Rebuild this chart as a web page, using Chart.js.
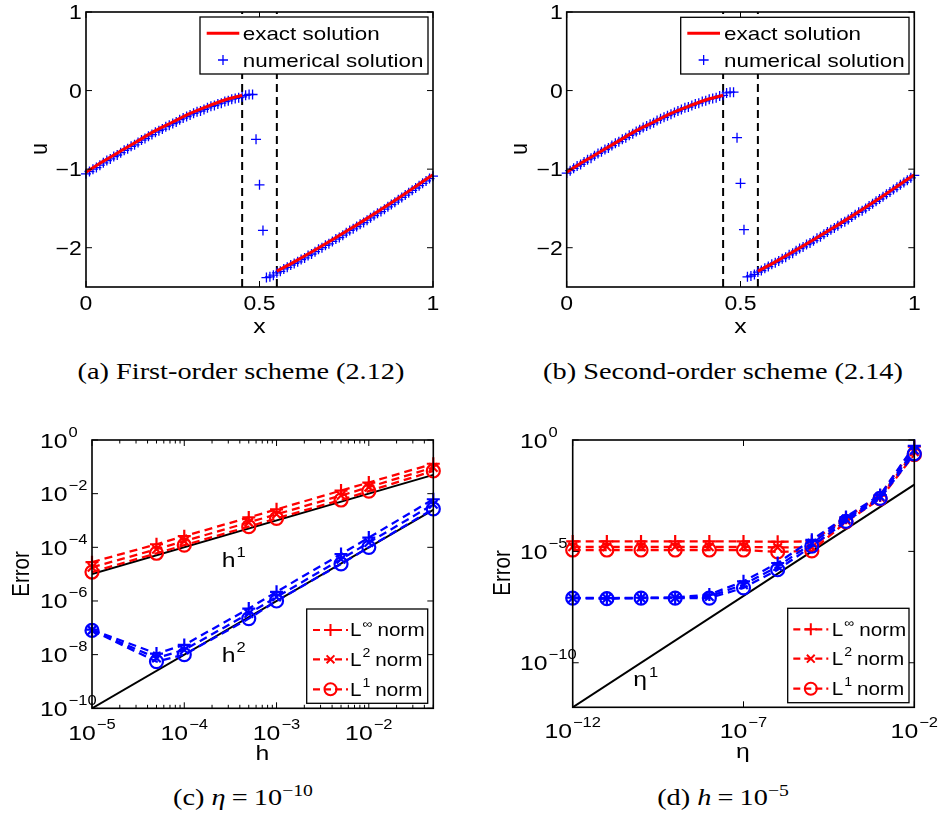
<!DOCTYPE html>
<html><head><meta charset="utf-8">
<script src="https://cdn.jsdelivr.net/npm/chart.js@4.4.0/dist/chart.umd.min.js"></script>
<style>
body{margin:0;background:#fff;width:939px;height:818px;overflow:hidden;position:relative}
canvas{position:absolute}
.cap{position:absolute;font-family:"Liberation Serif","Times New Roman",serif;font-size:23px;white-space:nowrap;line-height:1;transform:translate(-50%,-50%) scaleX(1.23);color:#000}
.cap sup{font-size:16px;vertical-align:9px;line-height:0}
.cap .eq{padding:0 5px}
</style></head><body>
<canvas id="ca" width="470" height="345" style="left:0;top:0"></canvas>
<canvas id="cb" width="469" height="345" style="left:470px;top:0"></canvas>
<canvas id="cc" width="470" height="380" style="left:0;top:400px"></canvas>
<canvas id="cd" width="469" height="380" style="left:470px;top:400px"></canvas>
<div class="cap" style="left:241px;top:371px">(a) First-order scheme (2.12)</div>
<div class="cap" style="left:723px;top:371px">(b) Second-order scheme (2.14)</div>
<div class="cap" style="left:243px;top:797px">(c) <i>η</i><span class="eq">=</span>10<sup>−10</sup></div>
<div class="cap" style="left:723px;top:797px">(d) <i>h</i><span class="eq">=</span>10<sup>−5</sup></div>
<script>
// ---------------- data ----------------
const exactLeftX = [0, 0.05, 0.1, 0.15, 0.2, 0.25, 0.3, 0.35, 0.4, 0.45];
const exactLeftU = [-1.04, -0.90, -0.77, -0.64, -0.51, -0.40, -0.29, -0.20, -0.12, -0.06];
const exactRightX = [0.55, 0.6, 0.65, 0.7, 0.75, 0.8, 0.85, 0.9, 0.95, 1];
const exactRightU = [-2.30, -2.18, -2.055, -1.925, -1.79, -1.655, -1.515, -1.37, -1.22, -1.07];
const interfaceX = [0.45, 0.55];
const numX = [0,0.01,0.02,0.03,0.04,0.05,0.06,0.07,0.08,0.09,0.1,0.11,0.12,0.13,0.14,0.15,0.16,0.17,0.18,0.19,0.2,0.21,0.22,0.23,0.24,0.25,0.26,0.27,0.28,0.29,0.3,0.31,0.32,0.33,0.34,0.35,0.36,0.37,0.38,0.39,0.4,0.41,0.42,0.43,0.44,0.45,0.46,0.47,0.48,0.49,0.5,0.51,0.52,0.53,0.54,0.55,0.56,0.57,0.58,0.59,0.6,0.61,0.62,0.63,0.64,0.65,0.66,0.67,0.68,0.69,0.7,0.71,0.72,0.73,0.74,0.75,0.76,0.77,0.78,0.79,0.8,0.81,0.82,0.83,0.84,0.85,0.86,0.87,0.88,0.89,0.9,0.91,0.92,0.93,0.94,0.95,0.96,0.97,0.98,0.99,1];
const numUFirst = [-1.06,-1.03,-1.00,-0.98,-0.95,-0.92,-0.89,-0.87,-0.84,-0.82,-0.79,-0.76,-0.74,-0.71,-0.69,-0.66,-0.63,-0.61,-0.58,-0.56,-0.53,-0.51,-0.49,-0.46,-0.44,-0.42,-0.40,-0.37,-0.35,-0.33,-0.31,-0.29,-0.27,-0.26,-0.24,-0.22,-0.20,-0.19,-0.17,-0.16,-0.14,-0.13,-0.11,-0.10,-0.09,-0.08,-0.06,-0.05,-0.05,-0.62,-1.20,-1.78,-2.38,-2.37,-2.35,-2.32,-2.30,-2.27,-2.25,-2.22,-2.20,-2.18,-2.15,-2.13,-2.10,-2.08,-2.05,-2.02,-2.00,-1.97,-1.95,-1.92,-1.89,-1.87,-1.84,-1.81,-1.78,-1.76,-1.73,-1.70,-1.68,-1.65,-1.62,-1.59,-1.56,-1.54,-1.51,-1.48,-1.45,-1.42,-1.39,-1.36,-1.33,-1.30,-1.27,-1.24,-1.21,-1.18,-1.15,-1.12,-1.09];
const numUSecond = [-1.05,-1.02,-0.99,-0.96,-0.94,-0.91,-0.88,-0.86,-0.83,-0.80,-0.78,-0.75,-0.73,-0.70,-0.67,-0.65,-0.62,-0.60,-0.57,-0.55,-0.52,-0.50,-0.47,-0.45,-0.43,-0.41,-0.38,-0.36,-0.34,-0.32,-0.30,-0.28,-0.26,-0.24,-0.22,-0.21,-0.19,-0.17,-0.16,-0.14,-0.13,-0.11,-0.10,-0.09,-0.07,-0.06,-0.03,-0.02,-0.02,-0.60,-1.18,-1.77,-2.37,-2.36,-2.34,-2.31,-2.29,-2.26,-2.24,-2.21,-2.19,-2.17,-2.14,-2.12,-2.09,-2.07,-2.04,-2.01,-1.99,-1.96,-1.94,-1.91,-1.88,-1.86,-1.83,-1.80,-1.77,-1.75,-1.72,-1.69,-1.67,-1.64,-1.61,-1.58,-1.55,-1.53,-1.50,-1.47,-1.44,-1.41,-1.38,-1.35,-1.32,-1.29,-1.26,-1.23,-1.20,-1.17,-1.14,-1.11,-1.08];

const hVals = [1e-5, 5e-5, 1e-4, 5e-4, 1e-3, 5e-3, 1e-2, 5e-2];
const hErrInfEta = [2.8e-5, 1.3e-4, 2.6e-4, 1.3e-3, 2.6e-3, 1.3e-2, 2.6e-2, 1.3e-1];
const hErr2Eta = [1.8e-5, 8.5e-5, 1.7e-4, 8.5e-4, 1.7e-3, 8.5e-3, 1.75e-2, 9.5e-2];
const hErr1Eta = [1.2e-5, 6.0e-5, 1.2e-4, 5.9e-4, 1.2e-3, 5.8e-3, 1.25e-2, 7.0e-2];
const hErrInfSharp = [8.5e-8, 1.1e-8, 2.3e-8, 5.2e-7, 2.2e-6, 5.6e-5, 2.3e-4, 6.2e-3];
const hErr2Sharp = [8.2e-8, 7.5e-9, 1.5e-8, 3.4e-7, 1.4e-6, 3.6e-5, 1.5e-4, 4.0e-3];
const hErr1Sharp = [8.0e-8, 5.5e-9, 1.0e-8, 2.2e-7, 1.0e-6, 2.4e-5, 1.0e-4, 2.7e-3];
const refH1X = [1e-5, 5e-2], refH1Y = [1e-5, 5e-2];
const refH2X = [1e-5, 5e-2], refH2Y = [1e-10, 2.5e-3];

const etaVals = [1e-12, 1e-11, 1e-10, 1e-9, 1e-8, 1e-7, 1e-6, 1e-5, 1e-4, 1e-3, 1e-2];
const eErrInfRed = [2.8e-5, 2.8e-5, 2.8e-5, 2.8e-5, 2.8e-5, 2.8e-5, 2.7e-5, 2.8e-5, 3.2e-4, 3.2e-3, 0.5];
const eErr2Red = [1.6e-5, 1.6e-5, 1.6e-5, 1.6e-5, 1.6e-5, 1.6e-5, 1.5e-5, 1.5e-5, 2.5e-4, 2.7e-3, 0.3];
const eErr1Red = [1.15e-5, 1.15e-5, 1.15e-5, 1.15e-5, 1.15e-5, 1.15e-5, 0.95e-5, 1.05e-5, 2.1e-4, 2.3e-3, 0.22];
const eErrInfBlue = [8.3e-8, 8.0e-8, 8.3e-8, 8.5e-8, 1.15e-7, 4.5e-7, 3.0e-6, 3.3e-5, 3.5e-4, 3.4e-3, 0.55];
const eErr2Blue = [8.1e-8, 7.8e-8, 8.1e-8, 8.2e-8, 9.5e-8, 3.2e-7, 2.1e-6, 2.3e-5, 2.8e-4, 2.9e-3, 0.35];
const eErr1Blue = [8.0e-8, 7.5e-8, 8.0e-8, 8.0e-8, 8.0e-8, 2.3e-7, 1.5e-6, 1.7e-5, 2.2e-4, 2.4e-3, 0.24];
const refEtaX = [1e-12, 1e-2], refEtaY = [1e-12, 1e-2];

const tickAX = [0, 0.5, 1], tickAXLabels = ['0', '0.5', '1'];
const tickAY = [-2, -1, 0, 1], tickAYLabels = ['\u22122', '\u22121', '0', '1'];
const tickCXExp = [-5, -4, -3, -2];
const tickCYExp = [0, -2, -4, -6, -8, -10];
const tickDXExp = [-12, -7, -2];
const tickDYExp = [0, -5, -10];
const legendSol = ['exact solution', 'numerical solution'];
const legendNorm = [['\u221E', 'cross'], ['2', 'crossRot'], ['1', 'circle']];

// ---------------- helpers ----------------
const SX = 1.18;
const FONT = '"Liberation Sans", Arial, Helvetica, sans-serif';
const RED = '#ff0000', BLUE = '#0000ff';
function pts(xs, ys) { return xs.map((x, i) => ({x: x, y: ys[i]})); }
function setFont(ctx, s) { ctx.font = s + 'px ' + FONT; }
function tw(ctx, s, size) { setFont(ctx, size); return ctx.measureText(s).width * SX; }
function text(ctx, s, x, y, size, align) {
  const w = tw(ctx, s, size);
  const x0 = align === 'center' ? x - w / 2 : align === 'right' ? x - w : x;
  ctx.save(); setFont(ctx, size); ctx.textAlign = 'left'; ctx.textBaseline = 'alphabetic';
  ctx.fillStyle = '#000'; ctx.translate(x0, y); ctx.scale(SX, 1); ctx.fillText(s, 0, 0); ctx.restore();
  return w;
}
function rotText(ctx, s, bx, cy, size) {
  ctx.save(); setFont(ctx, size); ctx.textAlign = 'center'; ctx.textBaseline = 'alphabetic'; ctx.fillStyle = '#000';
  ctx.translate(bx, cy); ctx.scale(SX, 1); ctx.rotate(-Math.PI / 2); ctx.fillText(s, 0, 0); ctx.restore();
}
function powText(ctx, e, x, yb, align, bs, es, raise) {
  const ex = e === 0 ? '0' : '\u2212' + Math.abs(e);
  const wb = tw(ctx, '10', bs), we = tw(ctx, ex, es);
  const tot = wb + we + 1;
  const x0 = align === 'center' ? x - tot / 2 : align === 'right' ? x - tot : x;
  text(ctx, '10', x0, yb, bs, 'left');
  text(ctx, ex, x0 + wb + 1, yb - raise, es, 'left');
}
function boxTicks(chart, xMaj, xMin, yMaj, yMin) {
  const {ctx, chartArea: a, scales: {x, y}} = chart;
  ctx.save(); ctx.strokeStyle = '#000'; ctx.lineWidth = 1; ctx.beginPath();
  const MJ = 6, MN = 3.5;
  const vx = (v, L) => { const p = x.getPixelForValue(v); ctx.moveTo(p, a.bottom); ctx.lineTo(p, a.bottom - L); ctx.moveTo(p, a.top); ctx.lineTo(p, a.top + L); };
  const vy = (v, L) => { const p = y.getPixelForValue(v); ctx.moveTo(a.left, p); ctx.lineTo(a.left + L, p); ctx.moveTo(a.right, p); ctx.lineTo(a.right - L, p); };
  xMaj.forEach(v => vx(v, MJ)); xMin.forEach(v => vx(v, MN));
  yMaj.forEach(v => vy(v, MJ)); yMin.forEach(v => vy(v, MN));
  ctx.stroke();
  ctx.lineWidth = 1.6; ctx.strokeRect(a.left, a.top, a.right - a.left, a.bottom - a.top);
  ctx.restore();
}
function marker(ctx, style, r, x, y, color, bw) {
  ctx.save(); ctx.strokeStyle = color; ctx.fillStyle = 'rgba(0,0,0,0)'; ctx.lineWidth = bw;
  Chart.helpers.drawPoint(ctx, {pointStyle: style, radius: r, rotation: 0, borderWidth: bw}, x, y);
  ctx.restore();
}
function legendBox(ctx, b) {
  ctx.save(); ctx.fillStyle = '#fff'; ctx.fillRect(b[0], b[1], b[2] - b[0], b[3] - b[1]);
  ctx.strokeStyle = '#000'; ctx.lineWidth = 1.3; ctx.strokeRect(b[0], b[1], b[2] - b[0], b[3] - b[1]); ctx.restore();
}
function solLegend(ctx, p) {
  legendBox(ctx, p.box);
  ctx.save(); ctx.strokeStyle = RED; ctx.lineWidth = 3; ctx.beginPath();
  ctx.moveTo(p.l0, p.r1); ctx.lineTo(p.l1, p.r1); ctx.stroke(); ctx.restore();
  marker(ctx, 'cross', 5, (p.l0 + p.l1) / 2, p.r2, BLUE, 1.3);
  text(ctx, legendSol[0], p.tx, p.r1 + 6.8, 19, 'left');
  text(ctx, legendSol[1], p.tx, p.r2 + 6.8, 19, 'left');
}
function normLegend(ctx, p) {
  legendBox(ctx, p.box);
  legendNorm.forEach((row, i) => {
    const ry = p.rows[i];
    ctx.save(); ctx.strokeStyle = RED; ctx.lineWidth = 2.2; ctx.setLineDash([7, 4]); ctx.beginPath();
    ctx.moveTo(p.l0, ry); ctx.lineTo(p.l1, ry); ctx.stroke(); ctx.restore();
    marker(ctx, row[1], row[1] === 'crossRot' ? 5.5 : 6, (p.l0 + p.l1) / 2, ry, RED, 2);
    const wl = text(ctx, 'L', p.tx, ry + 6.2, 17.5, 'left');
    const ws = text(ctx, row[0], p.tx + wl + 1, ry - 2.5, 12, 'left');
    text(ctx, 'norm', p.tx + wl + ws + 6, ry + 6.2, 17.5, 'left');
  });
}
function lineDs(xs, ys, color, width, extra) {
  return Object.assign({data: pts(xs, ys), showLine: true, borderColor: color, borderWidth: width, pointRadius: 0, fill: false}, extra || {});
}
function errDs(xs, ys, color, style, order) {
  const r = style === 'crossRot' ? 6 : 6.5;
  return {data: pts(xs, ys), showLine: true, borderColor: color, borderWidth: 2.3, borderDash: [8, 5],
    pointStyle: style, pointRadius: r, pointBorderWidth: 2.2, pointBorderColor: color,
    pointBackgroundColor: 'rgba(0,0,0,0)', clip: false, order: order};
}
const baseOpts = (pad, xs, ys) => ({
  responsive: false, animation: false, events: [],
  layout: {padding: pad},
  plugins: {legend: {display: false}, tooltip: {enabled: false}},
  scales: {x: Object.assign({display: false}, xs), y: Object.assign({display: false}, ys)}
});

// ---------------- (a) & (b) ----------------
function solutionChart(id, numU, pad, yLabRight, uBase, leg) {
  new Chart(document.getElementById(id), {
    type: 'scatter',
    data: {datasets: [
      lineDs(exactLeftX, exactLeftU, RED, 3, {cubicInterpolationMode: 'monotone', order: 0, label: legendSol[0]}),
      lineDs(exactRightX, exactRightU, RED, 3, {cubicInterpolationMode: 'monotone', order: 0}),
      {label: legendSol[1], data: pts(numX, numU), showLine: false, pointStyle: 'cross', pointRadius: 5,
        pointBorderColor: BLUE, borderColor: BLUE, pointBorderWidth: 1.3, clip: false, order: 1},
      lineDs([interfaceX[0], interfaceX[0]], [-2.5, 1], '#000', 2, {borderDash: [8, 5], order: 2}),
      lineDs([interfaceX[1], interfaceX[1]], [-2.5, 1], '#000', 2, {borderDash: [8, 5], order: 2})
    ]},
    options: baseOpts(pad, {type: 'linear', min: 0, max: 1}, {type: 'linear', min: -2.5, max: 1}),
    plugins: [{id: 'deco', afterDraw(chart) {
      const {ctx, chartArea: a, scales: {x, y}} = chart;
      boxTicks(chart, tickAX, [], tickAY, []);
      tickAX.forEach((v, i) => text(ctx, tickAXLabels[i], x.getPixelForValue(v), a.bottom + 23, 19.5, 'center'));
      tickAY.forEach((v, i) => text(ctx, tickAYLabels[i], yLabRight, y.getPixelForValue(v) + 7, 19.5, 'right'));
      text(ctx, 'x', x.getPixelForValue(0.5), 333.3, 21, 'center');
      rotText(ctx, 'u', uBase, 149, 21);
      solLegend(ctx, leg);
    }}]
  });
}
solutionChart('ca', numUFirst, {left: 86, top: 12, right: 37, bottom: 58}, 81.7, 46.7,
  {box: [200, 17, 428, 74], l0: 206.7, l1: 239.3, r1: 33.3, r2: 60, tx: 242.7});
solutionChart('cb', numUSecond, {left: 96.7, top: 12, right: 24.7, bottom: 58}, 92.7, 57.3,
  {box: [210.7, 17.3, 439, 74], l0: 217.3, l1: 250, r1: 33.3, r2: 60, tx: 254});

// ---------------- (c) ----------------
const minorC = [];
for (let e = -5; e <= -2; e++) for (let k = 2; k <= 9; k++) { const v = k * Math.pow(10, e); if (v <= 5e-2 + 1e-12) minorC.push(v); }
new Chart(document.getElementById('cc'), {
  type: 'scatter',
  data: {datasets: [
    errDs(hVals, hErrInfSharp, BLUE, 'cross', 1), errDs(hVals, hErr2Sharp, BLUE, 'crossRot', 1), errDs(hVals, hErr1Sharp, BLUE, 'circle', 1),
    errDs(hVals, hErrInfEta, RED, 'cross', 2), errDs(hVals, hErr2Eta, RED, 'crossRot', 2), errDs(hVals, hErr1Eta, RED, 'circle', 2),
    lineDs(refH1X, refH1Y, '#000', 2, {order: 3}), lineDs(refH2X, refH2Y, '#000', 2, {order: 3})
  ]},
  options: baseOpts({left: 92, top: 40, right: 36.7, bottom: 71.7}, {type: 'logarithmic', min: 1e-5, max: 5e-2}, {type: 'logarithmic', min: 1e-10, max: 1}),
  plugins: [{id: 'deco', afterDraw(chart) {
    const {ctx, chartArea: a, scales: {x, y}} = chart;
    boxTicks(chart, tickCXExp.map(e => Math.pow(10, e)), minorC, tickCYExp.map(e => Math.pow(10, e)), []);
    tickCXExp.forEach(e => powText(ctx, e, x.getPixelForValue(Math.pow(10, e)), 340, 'center', 21, 14, 11.5));
    tickCYExp.forEach(e => powText(ctx, e, 40, y.getPixelForValue(Math.pow(10, e)) + 7.5, 'left', 21, 14, 11));
    text(ctx, 'h', 262.3, 360, 21, 'center');
    rotText(ctx, 'Error', 29.3, 174, 20.5);
    const w1 = text(ctx, 'h', 221.7, 166.7, 21, 'left'); text(ctx, '1', 221.7 + w1 + 1, 156.7, 14, 'left');
    const w2 = text(ctx, 'h', 221.7, 261.7, 21, 'left'); text(ctx, '2', 221.7 + w2 + 1, 251.7, 14, 'left');
    normLegend(ctx, {box: [306.7, 209, 427.7, 303.3], l0: 313, l1: 348, rows: [230, 259.3, 289.3], tx: 350});
  }}]
});

// ---------------- (d) ----------------
new Chart(document.getElementById('cd'), {
  type: 'scatter',
  data: {datasets: [
    errDs(etaVals, eErrInfBlue, BLUE, 'cross', 1), errDs(etaVals, eErr2Blue, BLUE, 'crossRot', 1), errDs(etaVals, eErr1Blue, BLUE, 'circle', 1),
    errDs(etaVals, eErrInfRed, RED, 'cross', 2), errDs(etaVals, eErr2Red, RED, 'crossRot', 2), errDs(etaVals, eErr1Red, RED, 'circle', 2),
    lineDs(refEtaX, refEtaY, '#000', 2, {order: 3})
  ]},
  options: baseOpts({left: 102.7, top: 40, right: 24.7, bottom: 72.7}, {type: 'logarithmic', min: 1e-12, max: 1e-2}, {type: 'logarithmic', min: 1e-12, max: 1}),
  plugins: [{id: 'deco', afterDraw(chart) {
    const {ctx, chartArea: a, scales: {x, y}} = chart;
    boxTicks(chart, tickDXExp.map(e => Math.pow(10, e)), [], tickDYExp.map(e => Math.pow(10, e)), []);
    tickDXExp.forEach(e => powText(ctx, e, x.getPixelForValue(Math.pow(10, e)), 338, 'center', 21, 14, 11));
    tickDYExp.forEach(e => powText(ctx, e, 50, y.getPixelForValue(Math.pow(10, e)) + 7.5, 'left', 21, 14, 11));
    text(ctx, '\u03B7', 273, 358, 21, 'center');
    rotText(ctx, 'Error', 40, 173, 20.5);
    const w = text(ctx, '\u03B7', 163.3, 286, 21, 'left'); text(ctx, '1', 163.3 + w + 2, 276.7, 14, 'left');
    normLegend(ctx, {box: [317.7, 208.3, 439, 302.7], l0: 323.3, l1: 358.3, rows: [229.3, 258.7, 288.7], tx: 361.7});
  }}]
});
</script>
</body></html>
